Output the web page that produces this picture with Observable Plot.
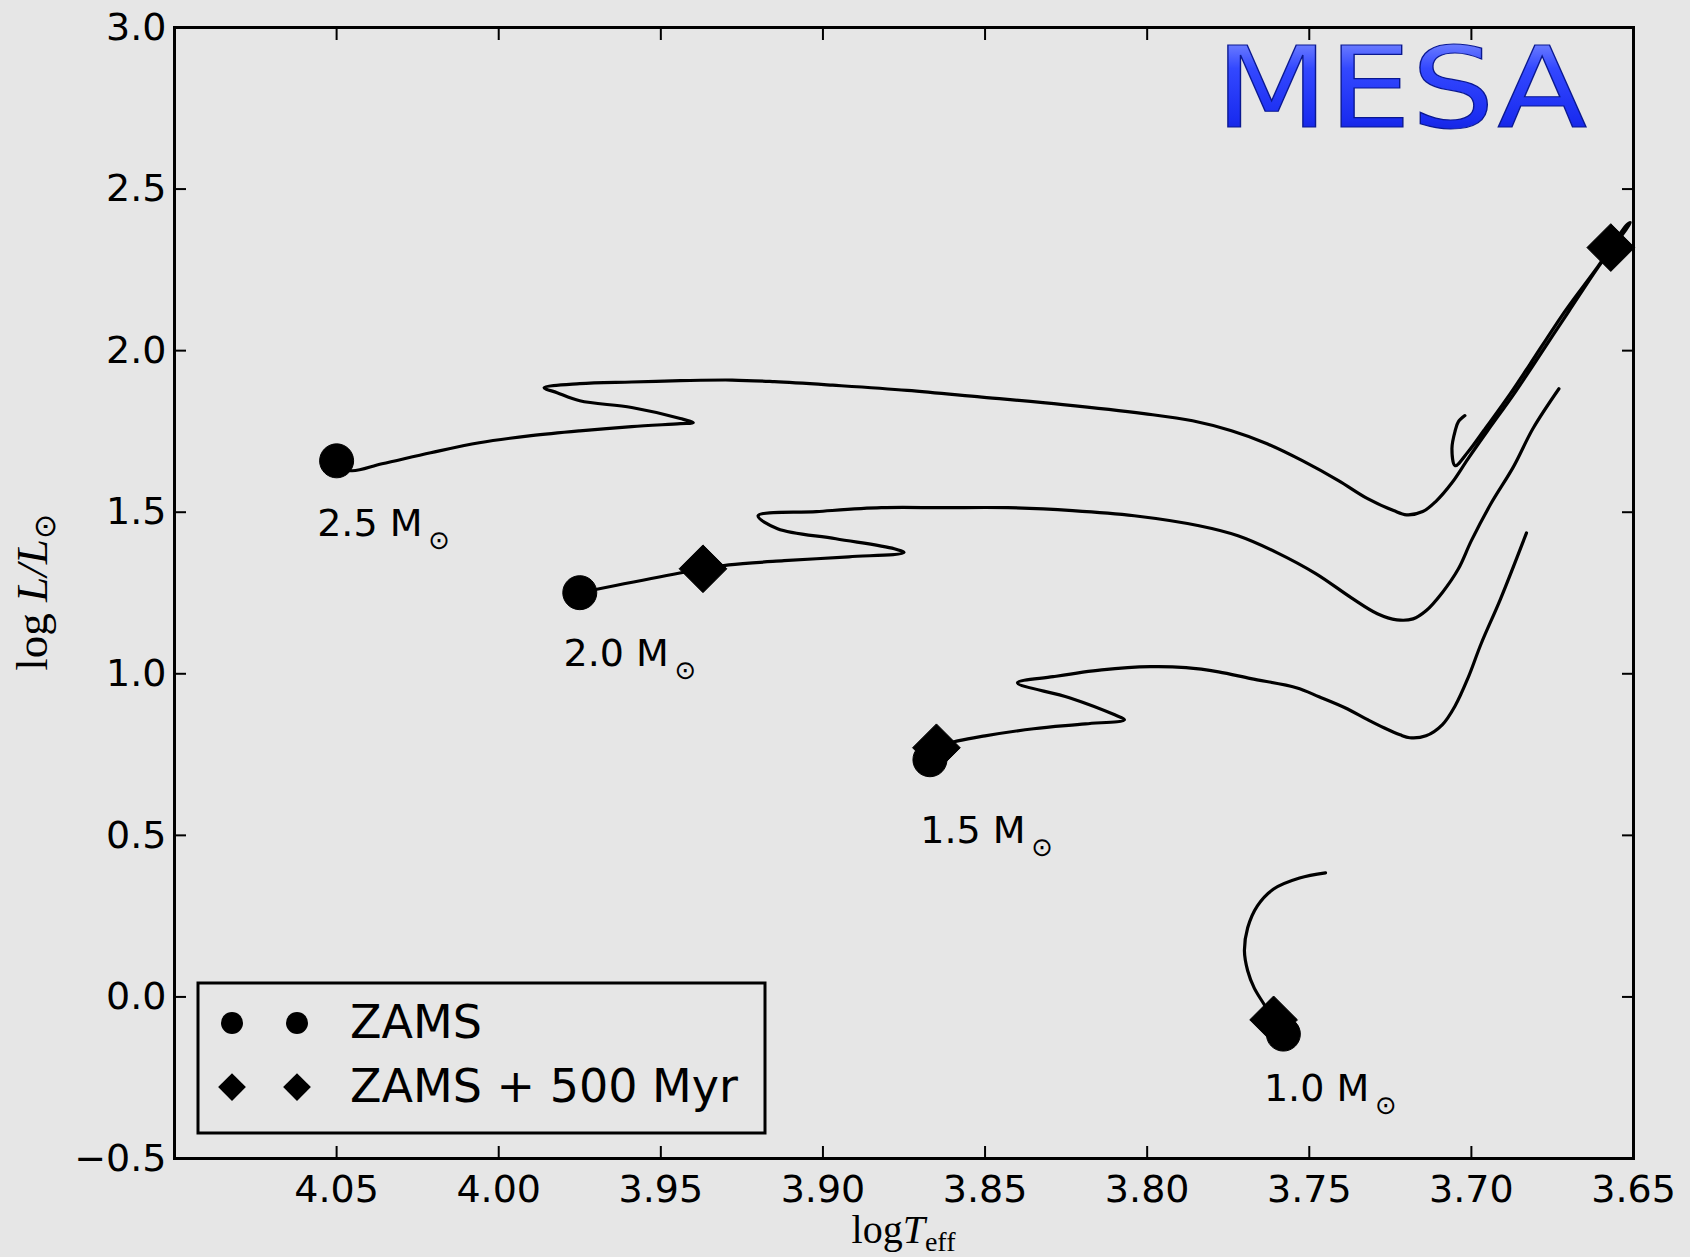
<!DOCTYPE html>
<html>
<head>
<meta charset="utf-8">
<script src="https://cdn.jsdelivr.net/npm/d3@7"></script>
<script src="https://cdn.jsdelivr.net/npm/@observablehq/plot@0.6"></script>
<style>
  html, body { margin: 0; padding: 0; background: #e6e6e6; }
  #chart { width: 1690px; height: 1257px; }
</style>
</head>
<body>
<div id="chart"></div>
<script>
// Evolutionary tracks in the HR diagram (log Teff, log L/Lsun), one per stellar mass.
const masses = ["2.5", "2.0", "1.5", "1.0"];

const t25T = [4.050, 4.046, 4.036, 4.021, 4.006, 3.990, 3.975, 3.959, 3.944, 3.940, 3.944, 3.959, 3.975, 3.982, 3.986,
  3.975, 3.959, 3.944, 3.928, 3.915, 3.897, 3.874, 3.851, 3.826, 3.801, 3.786, 3.774, 3.763, 3.752, 3.741, 3.732,
  3.724, 3.720, 3.715, 3.711, 3.706, 3.701, 3.695, 3.687, 3.681, 3.670, 3.661, 3.651,
  3.652, 3.661, 3.671, 3.682, 3.688, 3.696, 3.701, 3.705, 3.706, 3.705, 3.704, 3.702];
const t25L = [1.659, 1.629, 1.650, 1.684, 1.715, 1.737, 1.752, 1.765, 1.774, 1.777, 1.790, 1.824, 1.845, 1.870, 1.885,
  1.898, 1.903, 1.907, 1.909, 1.904, 1.893, 1.877, 1.856, 1.833, 1.805, 1.783, 1.752, 1.712, 1.659, 1.598, 1.542,
  1.505, 1.492, 1.502, 1.533, 1.591, 1.666, 1.752, 1.864, 1.954, 2.121, 2.257, 2.396,
  2.390, 2.260, 2.124, 1.957, 1.867, 1.755, 1.687, 1.644, 1.697, 1.752, 1.780, 1.799];

const t20T = [3.975, 3.937, 3.929, 3.912, 3.892, 3.875, 3.878, 3.896, 3.914, 3.920, 3.902, 3.882, 3.863, 3.843,
  3.823, 3.804, 3.784, 3.772, 3.760, 3.748, 3.737, 3.729, 3.723, 3.718, 3.714, 3.709, 3.704, 3.700, 3.694, 3.687,
  3.681, 3.673];
const t20L = [1.251, 1.325, 1.337, 1.350, 1.362, 1.375, 1.387, 1.418, 1.449, 1.489, 1.502, 1.514, 1.514, 1.514,
  1.505, 1.489, 1.458, 1.427, 1.375, 1.310, 1.235, 1.186, 1.167, 1.170, 1.195, 1.251, 1.325, 1.412, 1.526, 1.641,
  1.759, 1.882];

const t15T = [3.867, 3.865, 3.858, 3.850, 3.835, 3.819, 3.807, 3.810, 3.824, 3.840, 3.829, 3.814, 3.799, 3.788,
  3.778, 3.768, 3.754, 3.747, 3.739, 3.732, 3.727, 3.722, 3.719, 3.714, 3.709, 3.705, 3.701, 3.697, 3.691, 3.683];
const t15L = [0.734, 0.771, 0.793, 0.808, 0.830, 0.845, 0.858, 0.873, 0.926, 0.972, 0.991, 1.012, 1.022, 1.019,
  1.006, 0.985, 0.957, 0.929, 0.895, 0.858, 0.833, 0.811, 0.802, 0.808, 0.842, 0.901, 0.988, 1.093, 1.232, 1.436];

const t10T = [3.758, 3.761, 3.764, 3.767, 3.769, 3.770, 3.769, 3.766, 3.761, 3.753, 3.745];
const t10L = [-0.115, -0.071, -0.022, 0.028, 0.081, 0.142, 0.214, 0.282, 0.334, 0.368, 0.384];

// Zero-age main sequence points and positions 500 Myr later
const zamsT = [4.050, 3.975, 3.867, 3.758];
const zamsL = [1.659, 1.251, 0.734, -0.115];
const ageT = [3.657, 3.937, 3.865, 3.761];
const ageL = [2.319, 1.325, 0.771, -0.071];

// Mass annotations
const massText = ["2.5 M", "2.0 M", "1.5 M", "1.0 M"];
const labelT = [4.056, 3.980, 3.870, 3.764];
const labelL = [1.427, 1.025, 0.477, -0.322];

// Axis ticks
const xTickValues = [4.05, 4.00, 3.95, 3.90, 3.85, 3.80, 3.75, 3.70, 3.65];
const yTickValues = [-0.5, 0.0, 0.5, 1.0, 1.5, 2.0, 2.5, 3.0];

const legendLabels = ["ZAMS", "ZAMS + 500 Myr"];

const trackRows = [[t25T, t25L], [t20T, t20L], [t15T, t15L], [t10T, t10L]]
  .flatMap(([T, L], k) => T.map((t, i) => ({mass: masses[k], T: t, L: L[i]})));
const zamsRows = zamsT.map((t, i) => ({T: t, L: zamsL[i]}));
const ageRows = ageT.map((t, i) => ({T: t, L: ageL[i]}));

const bg = "#e6e6e6";
const W = 1690, H = 1257;
const mL = 174, mR = 57, mT = 27, mB = 99;

const chart = Plot.plot({
  width: W,
  height: H,
  marginLeft: mL,
  marginRight: mR,
  marginTop: mT,
  marginBottom: mB,
  style: {background: bg, fontFamily: "'DejaVu Sans', sans-serif", fontSize: "38px", color: "black", overflow: "visible"},
  x: {domain: [4.10, 3.65]},
  y: {domain: [-0.5, 3.0]},
  marks: [
    Plot.axisX(xTickValues, {anchor: "bottom", tickSize: -12, tickPadding: 29, strokeWidth: 2, tickFormat: d3.format(".2f"), label: null, fontSize: 38}),
    Plot.axisX(xTickValues, {anchor: "top", tickSize: -12, strokeWidth: 2, tickFormat: () => "", label: null}),
    Plot.axisY(yTickValues, {anchor: "left", tickSize: -12, tickPadding: 20, strokeWidth: 2, tickFormat: d3.format(".1f"), label: null, fontSize: 38}),
    Plot.axisY(yTickValues, {anchor: "right", tickSize: -12, strokeWidth: 2, tickFormat: () => "", label: null}),
    Plot.line(trackRows, {x: "T", y: "L", z: "mass", stroke: "black", strokeWidth: 3.2, curve: "catmull-rom", strokeLinejoin: "round"}),
    Plot.dot(zamsRows, {x: "T", y: "L", r: 17, fill: "black", stroke: "black", strokeWidth: 1}),
    Plot.dot(ageRows, {x: "T", y: "L", r: 21.5, symbol: "diamond2", fill: "black", stroke: "black", strokeWidth: 1}),
    Plot.text(massText, {x: labelT, y: labelL, text: d => d, textAnchor: "start", lineAnchor: "bottom", fontSize: 38, fill: "black"}),
    Plot.text(massText, {x: labelT, y: labelL, text: () => "\u2299", textAnchor: "start", lineAnchor: "bottom", dx: 111, dy: 13, fontSize: 26, fill: "black"}),
    Plot.frame({stroke: "black", strokeWidth: 3})
  ]
});

const svg = d3.select(chart);

// Gradient for the MESA wordmark
const defs = svg.append("defs");
const grad = defs.append("linearGradient").attr("id", "mesaFill").attr("x1", 0).attr("y1", 0).attr("x2", 0).attr("y2", 1);
grad.append("stop").attr("offset", "0%").attr("stop-color", "#9aa8ff");
grad.append("stop").attr("offset", "35%").attr("stop-color", "#3348ff");
grad.append("stop").attr("offset", "75%").attr("stop-color", "#1a2cf0");
grad.append("stop").attr("offset", "100%").attr("stop-color", "#0a18b8");

svg.append("text")
  .attr("x", 1215).attr("y", 127)
  .attr("text-anchor", "start")
  .attr("font-family", "'DejaVu Sans', sans-serif")
  .attr("font-size", 112)
  .attr("textLength", 372)
  .attr("lengthAdjust", "spacingAndGlyphs")
  .attr("fill", "url(#mesaFill)")
  .attr("stroke", "#0a1890")
  .attr("stroke-width", 1.2)
  .text("MESA");

// Legend box with two markers per entry
const leg = svg.append("g");
leg.append("rect")
  .attr("x", 198).attr("y", 983).attr("width", 567).attr("height", 150)
  .attr("fill", bg).attr("stroke", "black").attr("stroke-width", 3);
const rowY = [1023, 1087];
const symX = [232, 297];
symX.forEach(x => {
  leg.append("circle").attr("cx", x).attr("cy", rowY[0]).attr("r", 11).attr("fill", "black");
  leg.append("path").attr("d", d3.symbol(d3.symbolDiamond2, Math.PI * 12.5 * 12.5)()).attr("transform", `translate(${x},${rowY[1]})`).attr("fill", "black");
});
legendLabels.forEach((t, i) => {
  leg.append("text")
    .attr("x", 350).attr("y", rowY[i] + 15)
    .attr("text-anchor", "start")
    .attr("font-family", "'DejaVu Sans', sans-serif")
    .attr("font-size", 46)
    .attr("fill", "black")
    .text(t);
});

// Axis titles (math-style)
const xt = svg.append("text")
  .attr("x", (mL + W - mR) / 2).attr("y", 1243)
  .attr("text-anchor", "middle")
  .attr("font-family", "'Liberation Serif', serif")
  .attr("font-size", 40)
  .attr("fill", "black");
xt.append("tspan").text("log");
xt.append("tspan").attr("font-style", "italic").text("T");
xt.append("tspan").attr("font-size", 28).attr("dy", 8).text("eff");

const yt = svg.append("text")
  .attr("transform", `translate(47,${(mT + H - mB) / 2}) rotate(-90)`)
  .attr("text-anchor", "middle")
  .attr("font-family", "'Liberation Serif', serif")
  .attr("font-size", 45)
  .attr("fill", "black");
yt.append("tspan").text("log ");
yt.append("tspan").attr("font-style", "italic").text("L/L");
yt.append("tspan").attr("font-size", 30).attr("dy", 8).text("\u2299");

document.getElementById("chart").appendChild(chart);
</script>
</body>
</html>
